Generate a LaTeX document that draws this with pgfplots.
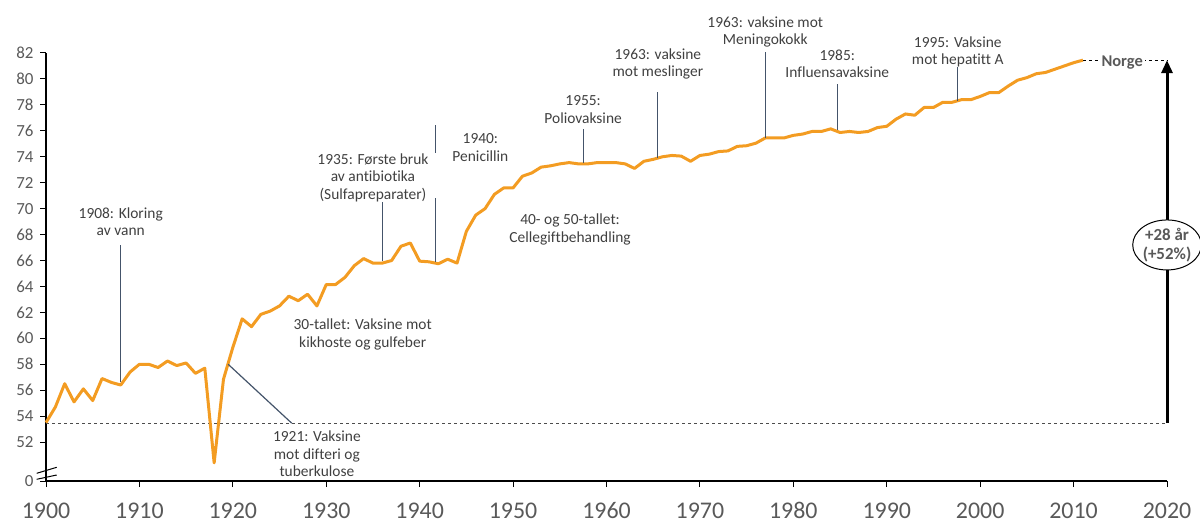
\documentclass[border=0pt]{standalone}
\usepackage{fontspec}
\setmainfont{Carlito}[Ligatures=NoCommon]
\usepackage{pgfplots}
\usepackage{pgfplotstable}
\pgfplotsset{compat=1.18}
\usetikzlibrary{arrows.meta,shapes.geometric}

\definecolor{lifeorange}{RGB}{243,156,34}
\definecolor{annline}{RGB}{68,84,106}
\definecolor{txtgray}{RGB}{64,64,64}
\definecolor{tickgray}{RGB}{89,89,89}

\pgfplotstableread{
year val
1900 53.5
1901 54.7
1902 56.5
1903 55.1
1904 56.1
1905 55.2
1906 56.9
1907 56.6
1908 56.4
1909 57.4
1910 58.0
1911 58.0
1912 57.75
1913 58.25
1914 57.9
1915 58.1
1916 57.3
1917 57.7
1918 50.4
1919 56.85
1920 59.3
1921 61.5
1922 60.9
1923 61.85
1924 62.1
1925 62.5
1926 63.25
1927 62.9
1928 63.4
1929 62.5
1930 64.15
1931 64.15
1932 64.7
1933 65.6
1934 66.15
1935 65.8
1936 65.8
1937 66.0
1938 67.1
1939 67.35
1940 65.95
1941 65.9
1942 65.75
1943 66.1
1944 65.8
1945 68.25
1946 69.5
1947 70.0
1948 71.1
1949 71.6
1950 71.6
1951 72.5
1952 72.75
1953 73.2
1954 73.3
1955 73.45
1956 73.55
1957 73.45
1958 73.45
1959 73.55
1960 73.55
1961 73.55
1962 73.45
1963 73.1
1964 73.65
1965 73.8
1966 74.0
1967 74.1
1968 74.05
1969 73.65
1970 74.1
1971 74.2
1972 74.4
1973 74.45
1974 74.8
1975 74.85
1976 75.05
1977 75.45
1978 75.45
1979 75.45
1980 75.65
1981 75.75
1982 75.95
1983 75.95
1984 76.15
1985 75.87
1986 75.95
1987 75.87
1988 75.95
1989 76.25
1990 76.35
1991 76.9
1992 77.3
1993 77.2
1994 77.8
1995 77.8
1996 78.2
1997 78.2
1998 78.4
1999 78.4
2000 78.65
2001 78.95
2002 78.95
2003 79.45
2004 79.9
2005 80.1
2006 80.4
2007 80.5
2008 80.75
2009 81.0
2010 81.25
2011 81.45
}\lifedata

\begin{document}
\begin{tikzpicture}[
  ann/.style={align=center, font=\fontsize{15.5}{17.5}\selectfont, text=txtgray, inner sep=0pt},
  annl/.style={annline, line width=1.2bp},
]
\useasboundingbox (0,0) rectangle (1200bp,526bp);
\begin{axis}[
  at={(46bp,45bp)}, anchor=south west,
  scale only axis, width=1121bp, height=428bp,
  xmin=1900, xmax=2020, ymin=49, ymax=82,
  axis x line=bottom, axis y line=left,
  axis line style={-, black, line width=1.3bp},
  xtick={1900,1910,1920,1930,1940,1950,1960,1970,1980,1990,2000,2010,2020},
  ytick={49,52,54,56,58,60,62,64,66,68,70,72,74,76,78,80,82},
  yticklabels={0,52,54,56,58,60,62,64,66,68,70,72,74,76,78,80,82},
  tick align=outside, major tick length=6bp,
  tick style={black, line width=1bp},
  /pgf/number format/1000 sep={},
  /pgf/number format/assume math mode=true,
  xticklabel style={font=\fontsize{24}{24}\selectfont, text=tickgray, yshift=-12bp},
  yticklabel style={font=\fontsize{17}{17}\selectfont, text=tickgray, xshift=-3bp},
  clip=false,
]
\draw[black!70, line width=1bp, dash pattern=on 3bp off 3bp] (axis cs:1900,53.46) -- (axis cs:2020,53.46);
\draw[black, line width=1bp, dash pattern=on 3bp off 3bp] (axis cs:2011,81.45) -- (axis cs:2020,81.45);

\addplot[lifeorange, line width=3bp, line join=round, no markers] table[x=year,y=val]{\lifedata};

% annotations
\draw[annl] (axis cs:1908,56.6) -- (axis cs:1908,67.2);
\node[ann] at (axis cs:1908,69.0) {1908: Kloring\\av vann};

\draw[annl] (axis cs:1919.5,58.0) -- (axis cs:1926.3,53.46);
\node[ann] at (axis cs:1929.0,51.1) {1921: Vaksine\\mot difteri og\\tuberkulose};

\node[ann] at (axis cs:1933.9,60.3) {30-tallet: Vaksine mot\\kikhoste og gulfeber};

\draw[annl] (axis cs:1936,66.0) -- (axis cs:1936,70.5);
\node[ann] at (axis cs:1935.0,72.4) {1935: Første bruk\\av antibiotika\\(Sulfapreparater)};

\draw[annl] (axis cs:1941.7,65.85) -- (axis cs:1941.7,70.85);
\draw[annl] (axis cs:1941.7,74.3) -- (axis cs:1941.7,76.46);
\node[ann] at (axis cs:1946.5,74.7) {1940:\\Penicillin};

\node[ann] at (axis cs:1956.1,68.4) {40- og 50-tallet:\\Cellegiftbehandling};

\draw[annl] (axis cs:1957.5,73.5) -- (axis cs:1957.5,76.15);
\node[ann] at (axis cs:1957.5,77.65) {1955:\\Poliovaksine};

\draw[annl] (axis cs:1965.5,73.9) -- (axis cs:1965.5,79.0);
\node[ann] at (axis cs:1965.5,81.15) {1963: vaksine\\mot meslinger};

\draw[annl] (axis cs:1977,75.45) -- (axis cs:1977,82.08);
\node[ann] at (axis cs:1977,83.6) {1963: vaksine mot\\Meningokokk};

\draw[annl] (axis cs:1984.7,76.1) -- (axis cs:1984.7,79.6);
\node[ann] at (axis cs:1984.7,81.15) {1985:\\Influensavaksine};

\draw[annl] (axis cs:1997.6,78.3) -- (axis cs:1997.6,80.9);
\node[ann] at (axis cs:1997.6,82.1) {1995: Vaksine\\mot hepatitt A};

\node[fill=white, inner sep=2bp, text=tickgray, font=\fontsize{16.5}{16.5}\selectfont\bfseries] at (axis cs:2015.2,81.25) {Norge};

\draw[-{Triangle[length=13bp,width=11bp]}, line width=3bp, black] (axis cs:2020,53.46) -- (axis cs:2020,81.45);
\node[draw=black, ellipse, fill=white, line width=1bp, align=center, inner sep=0pt,
      minimum width=64bp, minimum height=50bp,
      text=tickgray, font=\fontsize{17}{18.5}\selectfont\bfseries] at (axis cs:2020,67.2) {+28 år\\(+52\%)};
\end{axis}
% axis break marks
\draw[black, line width=1bp] (36.7bp,52.7bp) -- (56.7bp,58.7bp);
\draw[black, line width=1bp] (36.7bp,46.7bp) -- (56.7bp,51bp);
\end{tikzpicture}
\end{document}
